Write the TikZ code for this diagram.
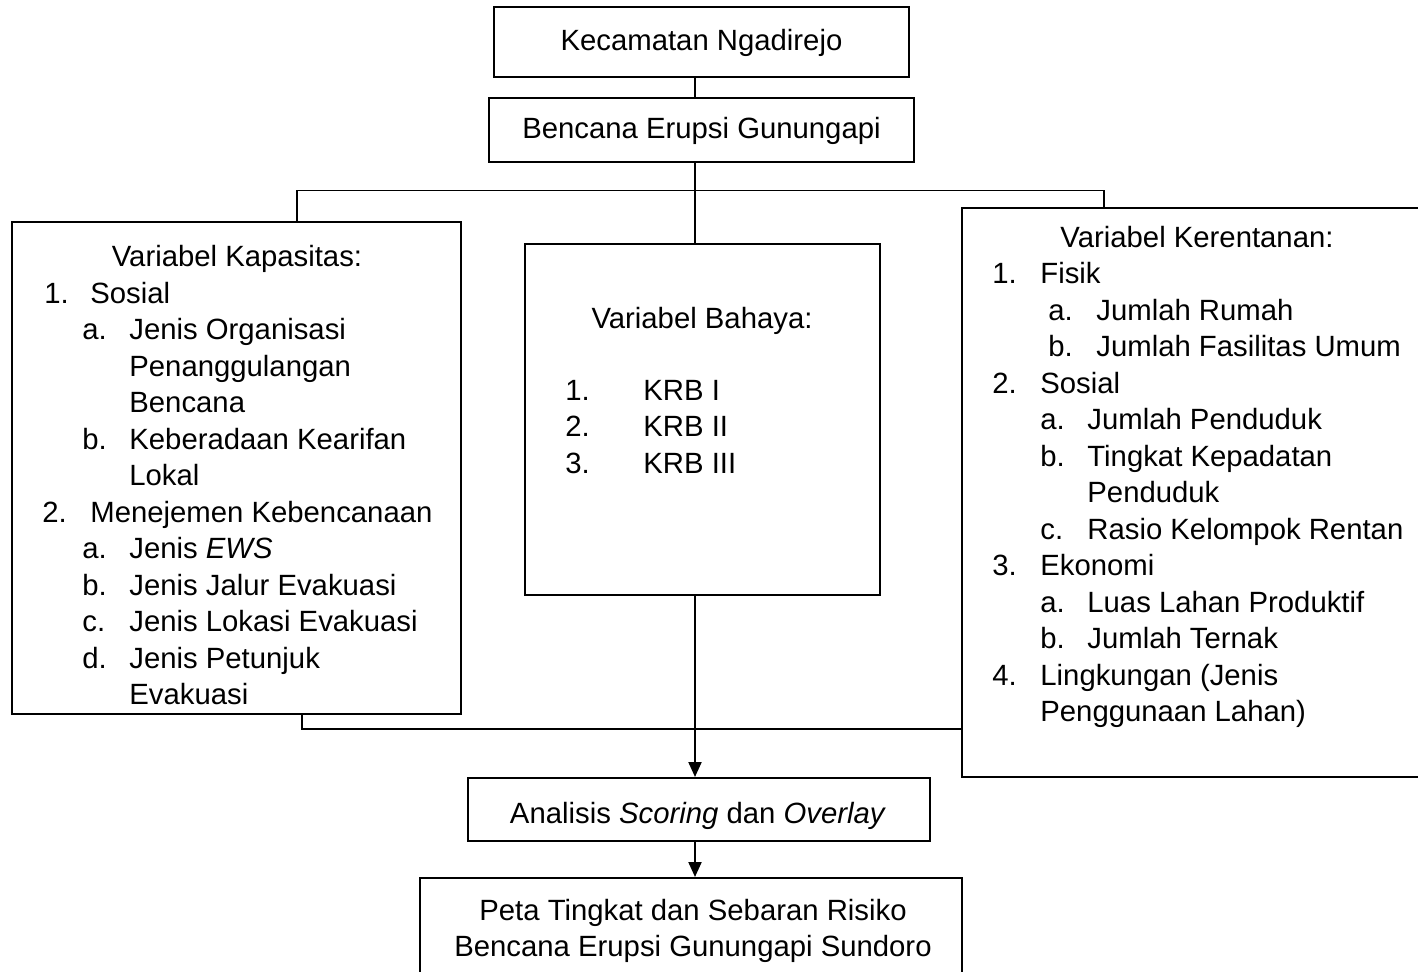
\documentclass[tikz,border=0pt]{standalone}
\usepackage{fontspec}
\setmainfont{Liberation Sans}
\usetikzlibrary{arrows.meta,calc}
\begin{document}
\begin{tikzpicture}[x=0.5pt,y=-0.5pt,
  box/.style={draw,line width=1pt,rectangle,inner sep=0pt},
  txt/.style={inner sep=0pt,font=\fontsize{14.65pt}{18.25pt}\selectfont},
  tl/.style={txt,anchor=base west},
  tc/.style={txt,anchor=base},
  conn/.style={line width=0.7pt},
  mainline/.style={line width=1pt},
  arr/.style={line width=1pt,-{Triangle[length=7.5pt,width=6.5pt]}}]
\useasboundingbox (0,0) rectangle (1418,971);
\clip (0,0) rectangle (1418,971);
\fill[white] (0,0) rectangle (1418,971);

% boxes
\node[box,minimum width=207.5pt,minimum height=35pt] (b1) at (701.5,42) {};
\node[box,minimum width=212.5pt,minimum height=32pt] (b2) at (701.5,130) {};
\node[box,minimum width=224.5pt,minimum height=246pt] (kap) at (236.5,468) {};
\node[box,minimum width=177.5pt,minimum height=175.5pt] (bah) at (702.5,419.5) {};
\node[box,minimum width=234pt,minimum height=284.5pt] (ker) at (1196,492.5) {};
\node[box,minimum width=231pt,minimum height=31.5pt] (ana) at (699,809.5) {};
\node[box,minimum width=271pt,minimum height=56pt] (peta) at (691,934) {};

% single texts
\node[tc] (t1) at (701.5,50) {Kecamatan Ngadirejo};
\node[tc] (t2) at (701.5,138) {Bencana Erupsi Gunungapi};
\node[tc] (t3) at (698,823) {Analisis \textit{Scoring} dan \textit{Overlay}};
\node[tc] (t4) at (693,920) {Peta Tingkat dan Sebaran Risiko};
\node[tc] (t5) at (693,956.5) {Bencana Erupsi Gunungapi Sundoro};

% Kapasitas
\node[tc] (k0) at (237,266.7) {Variabel Kapasitas:};
\node[tl] (k1n) at (44,303.2) {1.};
\node[tl] (k1) at (90,303.2) {Sosial};
\node[tl] (k2n) at (82,339.7) {a.};
\node[tl] (k2) at (129,339.7) {Jenis Organisasi};
\node[tl] (k3) at (129,376.2) {Penanggulangan};
\node[tl] (k4) at (129,412.7) {Bencana};
\node[tl] (k5n) at (82,449.2) {b.};
\node[tl] (k5) at (129,449.2) {Keberadaan Kearifan};
\node[tl] (k6) at (129,485.7) {Lokal};
\node[tl] (k7n) at (42,522.2) {2.};
\node[tl] (k7) at (90,522.2) {Menejemen Kebencanaan};
\node[tl] (k8n) at (82,558.7) {a.};
\node[tl] (k8) at (129,558.7) {Jenis \textit{EWS}};
\node[tl] (k9n) at (82,595.2) {b.};
\node[tl] (k9) at (129,595.2) {Jenis Jalur Evakuasi};
\node[tl] (k10n) at (82,631.7) {c.};
\node[tl] (k10) at (129,631.7) {Jenis Lokasi Evakuasi};
\node[tl] (k11n) at (82,668.2) {d.};
\node[tl] (k11) at (129,668.2) {Jenis Petunjuk};
\node[tl] (k12) at (129,704.7) {Evakuasi};

% Bahaya
\node[tc] (h0) at (702,328) {Variabel Bahaya:};
\node[tl] (h1n) at (565,400) {1.};
\node[tl] (h1) at (643,400) {KRB I};
\node[tl] (h2n) at (565,436.5) {2.};
\node[tl] (h2) at (643,436.5) {KRB II};
\node[tl] (h3n) at (565,473) {3.};
\node[tl] (h3) at (643,473) {KRB III};

% Kerentanan
\node[tc] (r0) at (1197,247) {Variabel Kerentanan:};
\node[tl] (r1n) at (992,283.5) {1.};
\node[tl] (r1) at (1040,283.5) {Fisik};
\node[tl] (r2n) at (1048,320) {a.};
\node[tl] (r2) at (1096,320) {Jumlah Rumah};
\node[tl] (r3n) at (1048,356.5) {b.};
\node[tl] (r3) at (1096,356.5) {Jumlah Fasilitas Umum};
\node[tl] (r4n) at (992,393) {2.};
\node[tl] (r4) at (1040,393) {Sosial};
\node[tl] (r5n) at (1040,429.5) {a.};
\node[tl] (r5) at (1087,429.5) {Jumlah Penduduk};
\node[tl] (r6n) at (1040,466) {b.};
\node[tl] (r6) at (1087,466) {Tingkat Kepadatan};
\node[tl] (r7) at (1087,502.5) {Penduduk};
\node[tl] (r8n) at (1040,539) {c.};
\node[tl] (r8) at (1087,539) {Rasio Kelompok Rentan};
\node[tl] (r9n) at (992,575.5) {3.};
\node[tl] (r9) at (1040,575.5) {Ekonomi};
\node[tl] (r10n) at (1040,612) {a.};
\node[tl] (r10) at (1087,612) {Luas Lahan Produktif};
\node[tl] (r11n) at (1040,648.5) {b.};
\node[tl] (r11) at (1087,648.5) {Jumlah Ternak};
\node[tl] (r12n) at (992,685) {4.};
\node[tl] (r12) at (1040,685) {Lingkungan (Jenis};
\node[tl] (r13) at (1040,721.5) {Penggunaan Lahan)};

% connectors
\coordinate (vx) at (695,0);
\draw[mainline] (b1.south -| vx) -- (b2.north -| vx);
\draw[mainline] (b2.south -| vx) -- (bah.north -| vx);
\coordinate (hl) at (297,190.5);
\coordinate (hr) at (1104,190.5);
\draw[conn] (hl |- kap.north) -- (hl) -- (hr) -- (hr |- ker.north);
\coordinate (bl) at (302,729);
\draw[conn] (bl |- kap.south) -- (bl) -- (bl -| ker.west);
\draw[arr] (bah.south -| vx) -- (ana.north -| vx);
\draw[arr] (ana.south -| vx) -- (peta.north -| vx);
\end{tikzpicture}
\end{document}
